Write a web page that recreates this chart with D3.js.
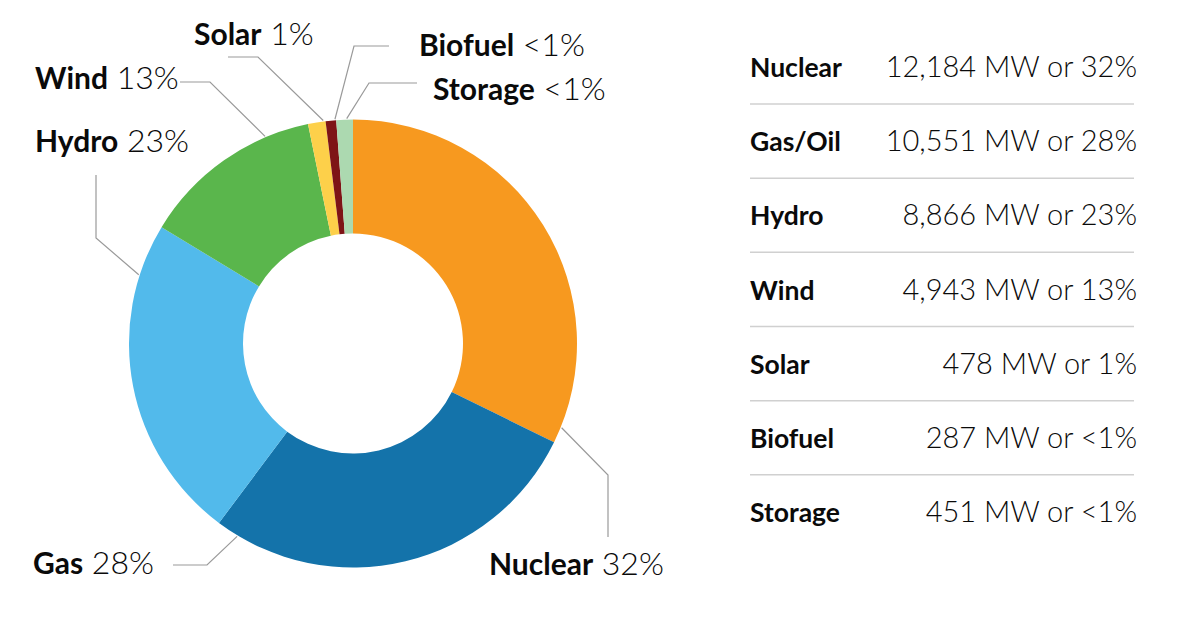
<!DOCTYPE html>
<html>
<head>
<meta charset="utf-8">
<script src="https://cdn.jsdelivr.net/npm/d3@7"></script>
<style>
  html, body { margin: 0; padding: 0; background: #fff; }
  svg { display: block; }
  text { font-family: Lato, "Open Sans", sans-serif; fill: #0a0a0a; }
</style>
</head>
<body>
<svg id="chart" width="1180" height="642"></svg>
<script>
// ---- data ----
const sources   = ["Nuclear", "Gas/Oil", "Hydro", "Wind", "Solar", "Biofuel", "Storage"];
const pieNames  = ["Nuclear", "Gas", "Hydro", "Wind", "Solar", "Biofuel", "Storage"];
const megawatts = [12184, 10551, 8866, 4943, 478, 287, 451];
const percents  = ["32%", "28%", "23%", "13%", "1%", "<1%", "<1%"];
const colors    = ["#F7991F", "#1473AA", "#52BAEB", "#5AB64C", "#FDD04A", "#7E1416", "#ACD9B0"];

// ---- layout (annotation positions) ----
const labelLayout = [
  { anchor: 112,   pts: [[608, 475], [608, 537]], lx: 489, ly: 575 },
  { anchor: 211,   pts: [[207, 565], [173, 565]], lx: 33,  ly: 574 },
  { anchor: 287.8, pts: [[96, 238],  [96, 175]],  lx: 35,  ly: 152 },
  { anchor: 337,   pts: [[210, 82],  [180, 82]],  lx: 35,  ly: 89 },
  { anchor: 352.4, pts: [[258, 57],  [228, 57]],  lx: 194, ly: 45 },
  { anchor: 355.4, pts: [[354, 46],  [389, 46]],  lx: 419, ly: 56 },
  { anchor: 358.4, pts: [[369, 83],  [417, 83]],  lx: 433, ly: 100 }
];

const svg = d3.select("#chart");
const cx = 353, cy = 343.5, R = 224, r0 = 110;

const pie = d3.pie().sort(null).value(d => d)(megawatts);
const arc = d3.arc().innerRadius(r0).outerRadius(R);

const g = svg.append("g").attr("transform", `translate(${cx},${cy})`);
g.selectAll("path.slice")
  .data(pie)
  .join("path")
  .attr("class", "slice")
  .attr("d", arc)
  .attr("fill", (d, i) => colors[i]);

// leader lines + labels
const line = d3.line();
labelLayout.forEach((L, i) => {
  const a = L.anchor * Math.PI / 180;
  const start = [cx + (R + 1) * Math.sin(a), cy - (R + 1) * Math.cos(a)];
  svg.append("path")
    .attr("d", line([start, ...L.pts]))
    .attr("fill", "none")
    .attr("stroke", "#9a9a9a")
    .attr("stroke-width", 1.2);
  const t = svg.append("text")
    .attr("x", L.lx).attr("y", L.ly);
  t.append("tspan").style("font-weight", 700).style("font-size", "30px").text(pieNames[i]);
  t.append("tspan").style("font-weight", 300).style("font-size", "32px").text(" " + percents[i]);
});

// ---- table ----
const fmt = d3.format(",");
const rowY = d3.scalePoint().domain(sources).range([77, 522]);
const tbl = svg.append("g");
sources.forEach((s, i) => {
  const y = rowY(s);
  tbl.append("text")
    .attr("x", 750).attr("y", y)
    .style("font-size", "26.5px").style("font-weight", 700)
    .text(s);
  tbl.append("text")
    .attr("x", 1137).attr("y", y)
    .attr("text-anchor", "end")
    .style("font-size", "29px").style("font-weight", 300)
    .text(`${fmt(megawatts[i])} MW or ${percents[i]}`);
  if (i < sources.length - 1) {
    tbl.append("line")
      .attr("x1", 750).attr("x2", 1134)
      .attr("y1", y + 27).attr("y2", y + 27)
      .attr("stroke", "#d0d0d0")
      .attr("stroke-width", 1.5);
  }
});
</script>
</body>
</html>
